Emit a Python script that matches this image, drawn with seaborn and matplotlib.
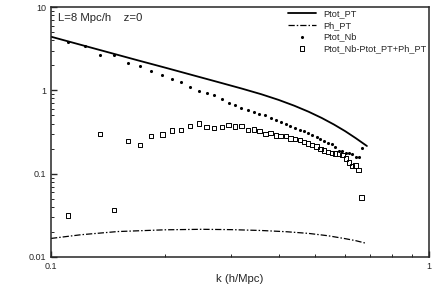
"""
Power spectra at z=0 for the L=8 Mpc/h box: perturbation theory vs N-body,
log-log axes in the old Tecplot look (inward ticks, no grid, frameless legend).
"""

import matplotlib
matplotlib.use("Agg")
import matplotlib.pyplot as plt
import matplotlib.ticker as mticker
import seaborn as sns


# Ptot_PT (solid line)
K_PT = [0.100, 0.120, 0.140, 0.170, 0.200, 0.240, 0.280, 0.320, 0.360,
        0.400, 0.440, 0.480, 0.520, 0.560, 0.600, 0.640, 0.685]
PTOT_PT = [4.41, 3.52, 2.91, 2.29, 1.88, 1.50, 1.24, 1.05, 0.899,
           0.769, 0.655, 0.555, 0.467, 0.390, 0.324, 0.267, 0.215]

# Ph_PT (dash-dot line)
K_PH = [0.100, 0.120, 0.150, 0.200, 0.250, 0.300, 0.360, 0.420, 0.480,
        0.540, 0.600, 0.640, 0.678]
PH_PT = [0.0167, 0.0185, 0.0202, 0.0212, 0.0215, 0.0213, 0.0208, 0.0201,
         0.0192, 0.0180, 0.0166, 0.0157, 0.0147]

# N-body bins
K_NB = [0.111, 0.123, 0.135, 0.147, 0.160, 0.172, 0.184, 0.197, 0.209, 0.221,
        0.233, 0.246, 0.258, 0.270, 0.283, 0.295, 0.307, 0.319, 0.332, 0.344,
        0.356, 0.369, 0.381, 0.393, 0.405, 0.418, 0.430, 0.442, 0.455, 0.467,
        0.479, 0.491, 0.504, 0.516, 0.528, 0.541, 0.553, 0.565, 0.577, 0.590,
        0.602, 0.614, 0.626, 0.639, 0.651, 0.663]
PTOT_NB = [3.84, 3.38, 2.68, 2.64, 2.15, 1.95, 1.70, 1.55, 1.38, 1.26,
           1.10, 0.986, 0.941, 0.876, 0.797, 0.714, 0.665, 0.612, 0.589, 0.548,
           0.523, 0.505, 0.472, 0.443, 0.420, 0.394, 0.375, 0.355, 0.337, 0.321,
           0.307, 0.293, 0.277, 0.260, 0.248, 0.235, 0.227, 0.212, 0.189, 0.185,
           0.178, 0.177, 0.172, 0.157, 0.160, 0.201]
# Ptot_Nb - Ptot_PT + Ph_PT (bin at k=0.123 is negative -> not shown on log axis)
K_DIFF = [0.111, 0.135, 0.147, 0.160, 0.172, 0.184, 0.197, 0.209, 0.221,
          0.233, 0.246, 0.258, 0.270, 0.283, 0.295, 0.307, 0.319, 0.332, 0.344,
          0.356, 0.369, 0.381, 0.393, 0.405, 0.418, 0.430, 0.442, 0.455, 0.467,
          0.479, 0.491, 0.504, 0.516, 0.528, 0.541, 0.553, 0.565, 0.577, 0.590,
          0.602, 0.614, 0.626, 0.639, 0.651, 0.663]
DIFF = [0.0314, 0.301, 0.0367, 0.246, 0.222, 0.285, 0.296, 0.330, 0.334,
        0.373, 0.400, 0.362, 0.356, 0.362, 0.383, 0.368, 0.373, 0.336, 0.339,
        0.325, 0.301, 0.307, 0.287, 0.285, 0.283, 0.265, 0.262, 0.253, 0.242,
        0.231, 0.221, 0.211, 0.199, 0.190, 0.182, 0.176, 0.175, 0.174, 0.167,
        0.153, 0.136, 0.123, 0.126, 0.110, 0.0519]

LABELS = ["Ptot_PT", "Ph_PT", "Ptot_Nb", "Ptot_Nb-Ptot_PT+Ph_PT"]


def set_style():
    sns.set_style("ticks")
    plt.rcParams.update({
        "font.family": ["Liberation Sans", "DejaVu Sans"],
        "font.size": 6.5,
        "axes.linewidth": 1.1,
        "xtick.direction": "in",
        "ytick.direction": "in",
        "xtick.major.size": 4.5,
        "ytick.major.size": 4.5,
        "xtick.minor.size": 2.2,
        "ytick.minor.size": 2.2,
        "xtick.major.width": 1.0,
        "ytick.major.width": 1.0,
        "xtick.minor.width": 0.7,
        "ytick.minor.width": 0.7,
    })


def main():
    set_style()
    fig = plt.figure(figsize=(4.36, 3.08), dpi=100)
    ax = fig.add_axes([0.117, 0.1656, 0.867, 0.8114])

    sns.lineplot(x=K_PT, y=PTOT_PT, ax=ax, color="black", linewidth=1.3,
                 label=LABELS[0])
    sns.lineplot(x=K_PH, y=PH_PT, ax=ax, color="black", linewidth=0.9,
                 linestyle=(0, (5, 1.6, 1.2, 1.6)), label=LABELS[1])
    sns.scatterplot(x=K_NB, y=PTOT_NB, ax=ax, color="black", marker="o",
                    s=5, linewidth=0, label=LABELS[2])
    sns.scatterplot(x=K_DIFF, y=DIFF, ax=ax, marker="s", s=10,
                    facecolor="none", edgecolor="black", linewidth=0.7,
                    label=LABELS[3])

    ax.set_xscale("log")
    ax.set_yscale("log")
    ax.set_xlim(0.1, 1)
    ax.set_ylim(0.01, 10)

    ax.xaxis.set_major_locator(mticker.FixedLocator([0.1, 1]))
    ax.xaxis.set_major_formatter(mticker.FixedFormatter(["0.1", "1"]))
    ax.yaxis.set_major_locator(mticker.FixedLocator([0.01, 0.1, 1, 10]))
    ax.yaxis.set_major_formatter(
        mticker.FixedFormatter(["0.01", "0.1", "1", "10"]))
    ax.xaxis.set_minor_locator(mticker.LogLocator(base=10, subs=range(2, 10)))
    ax.yaxis.set_minor_locator(mticker.LogLocator(base=10, subs=range(2, 10)))
    ax.xaxis.set_minor_formatter(mticker.NullFormatter())
    ax.yaxis.set_minor_formatter(mticker.NullFormatter())
    ax.tick_params(which="both", top=False, right=False, pad=3.5,
                   labelsize=6.5)

    ax.set_xlabel("k (h/Mpc)", fontsize=8.2, labelpad=2.5)
    ax.set_ylabel("")
    ax.text(0.018, 0.957, "L=8 Mpc/h    z=0", transform=ax.transAxes,
            fontsize=8.2, ha="left", va="center")

    ax.legend(loc="upper right", frameon=False, fontsize=6.6,
              handlelength=3.0, handletextpad=0.85, labelspacing=0.28,
              borderaxespad=0.15, borderpad=0.1)

    fig.savefig("out.png", dpi=100)
    plt.close(fig)


if __name__ == "__main__":
    main()
